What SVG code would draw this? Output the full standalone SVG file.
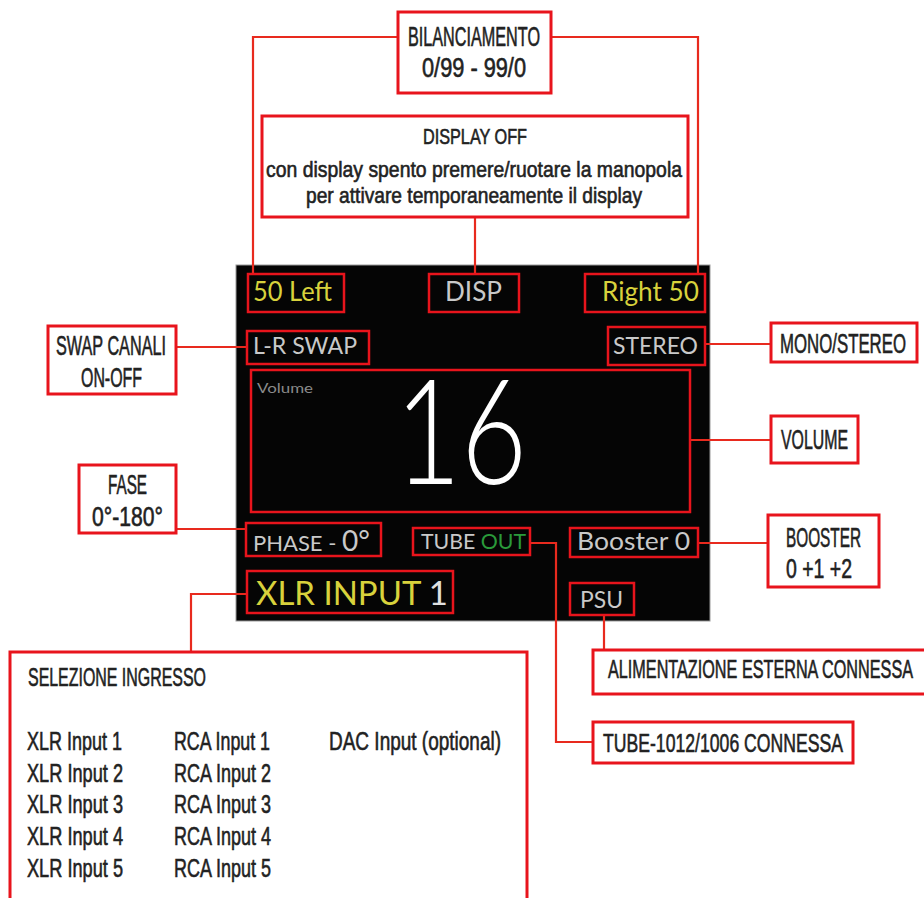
<svg xmlns="http://www.w3.org/2000/svg" width="924" height="898" viewBox="0 0 924 898">
<style>
.lbl{fill:#fff;stroke:#e8141c;stroke-width:3}
.hl{fill:none;stroke:#e8141c;stroke-width:2.5}
.con{fill:none;stroke:#e82a1e;stroke-width:2.2}
.t{font-family:"Liberation Sans",Arial,sans-serif;fill:#222;stroke:#222;stroke-width:0.6}
.d{font-family:Lato,"Noto Sans",sans-serif}
.y{fill:#d8d23c}
.g{fill:#c9c9c9}
</style>
<rect width="924" height="898" fill="#fff"/>
<g id="panel">
<rect x="236" y="265" width="474" height="356" fill="#050505" stroke="#999" stroke-width="1"/>
</g>
<g id="connectors">
<polyline class="con" points="398,37 253,37 253,274"/>
<polyline class="con" points="551,37 698,37 698,274"/>
<polyline class="con" points="475,217 475,274"/>
<polyline class="con" points="176,347 247,347"/>
<polyline class="con" points="705,344 771,344"/>
<polyline class="con" points="690,440 771,440"/>
<polyline class="con" points="176,529 246,529"/>
<polyline class="con" points="698,543 768,543"/>
<polyline class="con" points="530,543 556,543 556,742 593,742"/>
<polyline class="con" points="604,615 604,650"/>
<polyline class="con" points="247,594 191,594 191,652"/>
</g>
<g id="bilanciamento">
<rect class="lbl" x="398" y="12" width="153" height="81"/>
<text class="t" x="408" y="46" font-size="27" textLength="132" lengthAdjust="spacingAndGlyphs">BILANCIAMENTO</text>
<text class="t" x="422" y="77" font-size="27" textLength="104" lengthAdjust="spacingAndGlyphs">0/99 - 99/0</text>
</g>
<g id="display-off">
<rect class="lbl" x="262" y="116" width="426" height="101"/>
<text class="t" x="423" y="144" font-size="22" textLength="104" lengthAdjust="spacingAndGlyphs">DISPLAY OFF</text>
<text class="t" x="266" y="177" font-size="22" textLength="416" lengthAdjust="spacingAndGlyphs">con display spento premere/ruotare la manopola</text>
<text class="t" x="306" y="203" font-size="22" textLength="336" lengthAdjust="spacingAndGlyphs">per attivare temporaneamente il display</text>
</g>
<g id="swap-canali">
<rect class="lbl" x="48" y="326" width="128" height="68"/>
<text class="t" x="56" y="355" font-size="27" textLength="110" lengthAdjust="spacingAndGlyphs">SWAP CANALI</text>
<text class="t" x="81" y="387" font-size="27" textLength="61" lengthAdjust="spacingAndGlyphs">ON-OFF</text>
</g>
<g id="fase">
<rect class="lbl" x="79" y="465" width="97" height="68"/>
<text class="t" x="108" y="494" font-size="27" textLength="39" lengthAdjust="spacingAndGlyphs">FASE</text>
<text class="t" x="92" y="526" font-size="27" textLength="71" lengthAdjust="spacingAndGlyphs">0°-180°</text>
</g>
<g id="mono-stereo">
<rect class="lbl" x="771" y="323" width="146" height="39"/>
<text class="t" x="780" y="353" font-size="27" textLength="126" lengthAdjust="spacingAndGlyphs">MONO/STEREO</text>
</g>
<g id="volume">
<rect class="lbl" x="771" y="416" width="87" height="47"/>
<text class="t" x="781" y="449" font-size="27" textLength="67" lengthAdjust="spacingAndGlyphs">VOLUME</text>
</g>
<g id="booster">
<rect class="lbl" x="768" y="515" width="111" height="72"/>
<text class="t" x="786" y="547" font-size="27" textLength="75" lengthAdjust="spacingAndGlyphs">BOOSTER</text>
<text class="t" x="786" y="578" font-size="27" textLength="66" lengthAdjust="spacingAndGlyphs">0 +1 +2</text>
</g>
<g id="alimentazione">
<rect class="lbl" x="593" y="650" width="340" height="44"/>
<text class="t" x="608" y="678" font-size="26" textLength="305" lengthAdjust="spacingAndGlyphs">ALIMENTAZIONE ESTERNA CONNESSA</text>
</g>
<g id="tube-connessa">
<rect class="lbl" x="593" y="722" width="260" height="41"/>
<text class="t" x="603" y="752" font-size="26" textLength="240" lengthAdjust="spacingAndGlyphs">TUBE-1012/1006 CONNESSA</text>
</g>
<g id="selezione">
<rect class="lbl" x="10" y="652" width="517" height="270"/>
<text class="t" x="28" y="686" font-size="26" textLength="178" lengthAdjust="spacingAndGlyphs">SELEZIONE INGRESSO</text>
<text class="t" x="27" y="750" font-size="26" textLength="95" lengthAdjust="spacingAndGlyphs">XLR Input 1</text>
<text class="t" x="27" y="782" font-size="26" textLength="96" lengthAdjust="spacingAndGlyphs">XLR Input 2</text>
<text class="t" x="27" y="813" font-size="26" textLength="96" lengthAdjust="spacingAndGlyphs">XLR Input 3</text>
<text class="t" x="27" y="845" font-size="26" textLength="96" lengthAdjust="spacingAndGlyphs">XLR Input 4</text>
<text class="t" x="27" y="877" font-size="26" textLength="96" lengthAdjust="spacingAndGlyphs">XLR Input 5</text>
<text class="t" x="174" y="750" font-size="26" textLength="96" lengthAdjust="spacingAndGlyphs">RCA Input 1</text>
<text class="t" x="174" y="782" font-size="26" textLength="97" lengthAdjust="spacingAndGlyphs">RCA Input 2</text>
<text class="t" x="174" y="813" font-size="26" textLength="97" lengthAdjust="spacingAndGlyphs">RCA Input 3</text>
<text class="t" x="174" y="845" font-size="26" textLength="97" lengthAdjust="spacingAndGlyphs">RCA Input 4</text>
<text class="t" x="174" y="877" font-size="26" textLength="97" lengthAdjust="spacingAndGlyphs">RCA Input 5</text>
<text class="t" x="329" y="750" font-size="26" textLength="172" lengthAdjust="spacingAndGlyphs">DAC Input (optional)</text>
</g>
<g id="disp-left">
<rect class="hl" x="248" y="274" width="96" height="38"/>
<text class="d y" x="253" y="301" font-size="27" textLength="79" lengthAdjust="spacingAndGlyphs">50 Left</text>
</g>
<g id="disp-disp">
<rect class="hl" x="429" y="274" width="90" height="38"/>
<text class="d g" x="445" y="301" font-size="27" textLength="57" lengthAdjust="spacingAndGlyphs">DISP</text>
</g>
<g id="disp-right">
<rect class="hl" x="585" y="274" width="120" height="38"/>
<text class="d y" x="602" y="301" font-size="27" textLength="97" lengthAdjust="spacingAndGlyphs">Right 50</text>
</g>
<g id="disp-swap">
<rect class="hl" x="247" y="331" width="122" height="33"/>
<text class="d g" x="253" y="354" font-size="23" textLength="104" lengthAdjust="spacingAndGlyphs">L-R SWAP</text>
</g>
<g id="disp-stereo">
<rect class="hl" x="608" y="327" width="97" height="38"/>
<text class="d g" x="613" y="354" font-size="23" textLength="85" lengthAdjust="spacingAndGlyphs">STEREO</text>
</g>
<g id="disp-volume">
<rect class="hl" x="251" y="370" width="439" height="142"/>
<text class="d" x="257" y="393" font-size="14" fill="#8a8a8a" textLength="56" lengthAdjust="spacingAndGlyphs">Volume</text>
<text class="d" x="395" y="484" font-size="146" font-weight="300" fill="#fff" textLength="132" lengthAdjust="spacingAndGlyphs">16</text>
</g>
<g id="disp-phase">
<rect class="hl" x="246" y="523" width="135" height="33"/>
<text class="d g" x="253" y="551" font-size="22">PHASE - <tspan font-size="28">0°</tspan></text>
</g>
<g id="disp-tube">
<rect class="hl" x="413" y="528" width="117" height="27"/>
<text class="d g" x="421" y="549" font-size="21" textLength="105" lengthAdjust="spacingAndGlyphs">TUBE <tspan fill="#2a9a3a">OUT</tspan></text>
</g>
<g id="disp-booster">
<rect class="hl" x="570" y="528" width="128" height="29"/>
<text class="d g" x="577" y="550" font-size="25" textLength="113" lengthAdjust="spacingAndGlyphs">Booster 0</text>
</g>
<g id="disp-input">
<rect class="hl" x="247" y="571" width="206" height="42"/>
<text class="d y" x="256" y="605" font-size="32" textLength="192" lengthAdjust="spacingAndGlyphs">XLR INPUT <tspan fill="#e0e0e0">1</tspan></text>
</g>
<g id="disp-psu">
<rect class="hl" x="570" y="583" width="64" height="32"/>
<text class="d g" x="580" y="608" font-size="24" textLength="43" lengthAdjust="spacingAndGlyphs">PSU</text>
</g>
</svg>
